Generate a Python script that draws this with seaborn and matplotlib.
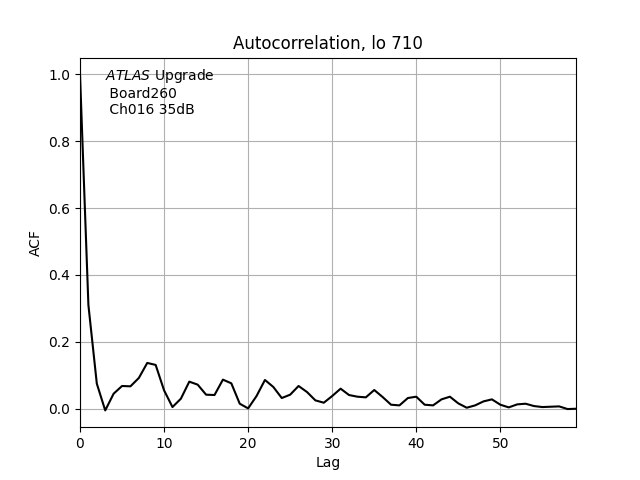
import numpy as np
import pandas as pd
import matplotlib
matplotlib.use("Agg")
import matplotlib.pyplot as plt
import seaborn as sns

lags = list(range(60))
acf = [1.0, 0.31, 0.075, -0.005, 0.045, 0.068, 0.067, 0.092, 0.137, 0.131,
       0.055, 0.005, 0.03, 0.081, 0.072, 0.042, 0.041, 0.087, 0.076, 0.015,
       0.001, 0.038, 0.086, 0.065, 0.032, 0.042, 0.068, 0.05, 0.025, 0.018,
       0.038, 0.06, 0.041, 0.036, 0.034, 0.056, 0.035, 0.012, 0.01, 0.032,
       0.036, 0.012, 0.01, 0.028, 0.036, 0.016, 0.003, 0.01, 0.022, 0.028,
       0.012, 0.004, 0.013, 0.015, 0.008, 0.005, 0.006, 0.007, -0.001, 0.0]

df = pd.DataFrame({"Lag": lags, "ACF": acf})

fig, ax = plt.subplots(figsize=(6.4, 4.8), dpi=100)
sns.lineplot(data=df, x="Lag", y="ACF", color="black", linewidth=1.5, ax=ax)

ax.set_xlim(0, 59)
ax.grid(True)
ax.set_title("Autocorrelation, lo 710")
ax.set_xlabel("Lag")
ax.set_ylabel("ACF")
ax.text(0.05, 0.975, "$\\it{ATLAS}$ Upgrade\n Board260\n Ch016 35dB",
        transform=ax.transAxes, va="top", ha="left")

plt.savefig("out.png", dpi=100)
